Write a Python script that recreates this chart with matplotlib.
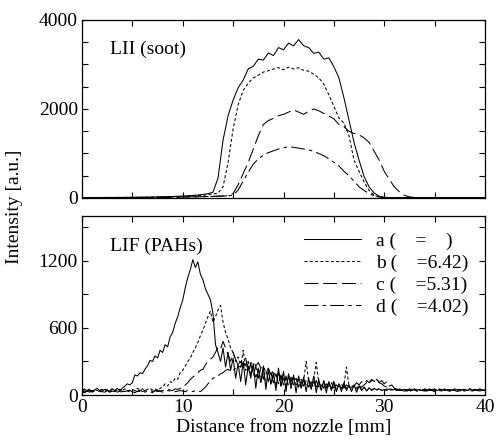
import numpy as np
import matplotlib
matplotlib.use('Agg')
import matplotlib.pyplot as plt
from matplotlib.ticker import MultipleLocator

plt.rcParams['font.family'] = ['Liberation Serif', 'DejaVu Serif']
plt.rcParams['font.size'] = 14
plt.rcParams['lines.scale_dashes'] = False

# ---- top panel: LII (soot), samples every 0.5 mm ----
lii_a = [10, 12, 10, 12, 11, 13, 12, 14, 13, 15,
         15, 17, 18, 20, 22, 25, 27, 30, 34, 38,
         44, 50, 58, 68, 80, 98, 130, 450, 1300, 1850,
         2200, 2480, 2650, 2900, 2960, 3120, 3100, 3260, 3200, 3380,
         3330, 3480, 3420, 3560, 3420, 3380, 3250, 3280, 3120, 3150,
         2950, 2700, 2250, 1750, 1250, 850, 480, 250, 110, 40,
         15, 10, 8, 8, 8, 8, 8, 8, 8, 8,
         8, 8, 8, 8, 8, 8, 8, 8, 8, 8, 8]
lii_b = [10, 10, 11, 10, 12, 11, 12, 12, 13, 13,
         14, 15, 16, 17, 18, 20, 22, 24, 26, 30,
         34, 38, 44, 52, 62, 75, 90, 110, 250, 800,
         1550, 2100, 2420, 2580, 2700, 2760, 2830, 2860, 2900, 2930,
         2880, 2940, 2900, 2930, 2870, 2850, 2780, 2700, 2560, 2320,
         2060, 1800, 1680, 1400, 850, 600, 360, 170, 60, 20,
         10, 10, 10, 10, 10, 10, 10, 10, 10, 10,
         10, 10, 10, 10, 10, 10, 10, 10, 10, 10, 10]
lii_c = [8, 8, 9, 8, 9, 9, 10, 10, 10, 11,
         11, 12, 12, 13, 14, 15, 16, 17, 18, 20,
         22, 24, 26, 28, 30, 33, 36, 40, 45, 50,
         100, 300, 550, 800, 1100, 1400, 1650, 1740, 1790, 1850,
         1880, 1930, 1980, 1930, 1880, 1950, 2000, 1960, 1900, 1840,
         1780, 1650, 1600, 1500, 1450, 1420, 1350, 1250, 1050, 850,
         600, 420, 250, 140, 60, 25, 12, 10, 10, 10,
         10, 10, 10, 10, 10, 10, 10, 10, 10, 10, 10]
lii_d = [8, 8, 9, 8, 9, 9, 10, 10, 10, 11,
         11, 12, 12, 13, 14, 15, 16, 17, 18, 20,
         22, 24, 26, 28, 30, 33, 36, 40, 45, 50,
         60, 180, 380, 580, 760, 880, 960, 1020, 1060, 1100,
         1130, 1150, 1140, 1120, 1100, 1080, 1050, 1000, 950, 880,
         800, 720, 600, 500, 380, 250, 170, 100, 50, 20,
         10, 10, 10, 10, 10, 10, 10, 10, 10, 10,
         10, 10, 10, 10, 10, 10, 10, 10, 10, 10, 10]

# ---- bottom panel: LIF (PAHs), samples every 0.25 mm ----
lif_a = [40, 55, 35, 50, 30, 45, 60, 40,
         35, 50, 45, 30, 55, 40, 60, 35,
         60, 80, 100, 90, 110, 180, 170, 200,
         190, 230, 260, 310, 300, 350, 330, 400,
         380, 450, 430, 520, 560, 640, 700, 780,
         850, 960, 1050, 1120, 1210, 1140, 1190, 1080,
         1030, 950, 900, 850, 730, 450, 380, 300,
         420, 250, 380, 220, 330, 150, 280, 120,
         300, 90, 260, 150, 280, 60, 240, 110,
         260, 50, 230, 100, 200, 40, 240, 80,
         210, 30, 190, 70, 180, 20, 170, 60,
         160, 30, 150, 50, 170, 20, 140, 40,
         130, 20, 120, 40, 110, 30, 100, 30,
         110, 40, 90, 30, 90, 25, 80, 40,
         70, 35, 65, 40, 60, 45, 55, 40,
         50, 40, 55, 45, 50, 40, 55, 45,
         50, 45, 55, 40, 55, 45, 50, 40,
         55, 45, 50, 45, 55, 40, 50, 45,
         55, 45, 50, 40, 55, 45, 50, 45,
         50, 40, 55, 45, 50, 45, 55, 40,
         45]
lif_b = [30, 45, 40, 55, 35, 50, 40, 45,
         50, 35, 45, 40, 55, 30, 45, 50,
         40, 55, 35, 45, 50, 40, 60, 45,
         55, 40, 50, 60, 45, 55, 40, 60,
         70, 100, 80, 120, 110, 150, 140, 200,
         220, 260, 300, 330, 380, 420, 470, 530,
         580, 640, 700, 750, 650, 700, 760, 800,
         650, 560, 500, 420, 380, 300, 340, 250,
         400, 220, 300, 180, 260, 150, 240, 120,
         220, 100, 200, 90, 180, 80, 190, 70,
         160, 70, 170, 60, 150, 80, 140, 60,
         130, 300, 120, 60, 140, 290, 110, 50,
         120, 60, 110, 50, 130, 40, 100, 60,
         90, 250, 80, 50, 90, 40, 80, 50,
         70, 40, 60, 50, 55, 45, 60, 40,
         45, 55, 40, 50, 45, 55, 40, 50,
         45, 50, 40, 55, 45, 50, 40, 45,
         50, 45, 55, 40, 50, 45, 55, 40,
         45, 50, 40, 55, 45, 50, 45, 40,
         50, 45, 55, 40, 50, 45, 50, 40,
         45]
lif_c = [25, 35, 30, 40, 25, 35, 30, 40,
         30, 25, 40, 35, 30, 40, 25, 35,
         35, 30, 40, 30, 35, 40, 30, 45,
         30, 40, 35, 45, 30, 40, 45, 35,
         40, 35, 50, 45, 40, 55, 50, 60,
         60, 90, 110, 140, 160, 180, 200, 220,
         230, 270, 300, 320, 340, 380, 430, 410,
         480, 420, 360, 300, 380, 320, 260, 300,
         240, 330, 200, 280, 170, 260, 150, 240,
         140, 230, 120, 200, 110, 190, 100, 180,
         90, 170, 80, 160, 90, 150, 70, 140,
         80, 130, 70, 120, 60, 130, 70, 110,
         60, 100, 70, 110, 60, 90, 70, 100,
         60, 90, 70, 100, 80, 110, 90, 120,
         100, 130, 110, 140, 120, 150, 110, 130,
         100, 120, 80, 90, 60, 50, 40, 45,
         40, 35, 45, 40, 50, 35, 45, 40,
         35, 45, 40, 50, 35, 45, 40, 45,
         40, 50, 35, 45, 40, 45, 35, 50,
         45, 40, 50, 35, 45, 40, 50, 45,
         40]
lif_d = [30, 20, 35, 25, 40, 30, 25, 35,
         20, 30, 40, 25, 35, 30, 45, 25,
         30, 35, 25, 40, 30, 20, 35, 30,
         40, 25, 35, 30, 20, 40, 30, 35,
         25, 30, 40, 35, 25, 30, 35, 40,
         35, 30, 40, 35, 30, 40, 35, 30,
         50, 70, 100, 120, 150, 160, 170, 190,
         200, 220, 230, 210, 220, 240, 260, 250,
         290, 270, 310, 280, 300, 260, 290, 240,
         260, 200, 240, 180, 220, 160, 200, 140,
         180, 130, 170, 120, 160, 110, 150, 100,
         140, 90, 130, 80, 120, 70, 110, 80,
         100, 70, 110, 60, 100, 70, 90, 60,
         90, 60, 80, 70, 90, 60, 80, 70,
         90, 110, 100, 130, 120, 140, 110, 100,
         80, 70, 60, 50, 45, 40, 45, 40,
         35, 45, 40, 30, 45, 35, 40, 45,
         40, 35, 45, 40, 30, 45, 40, 35,
         45, 40, 35, 45, 40, 30, 45, 40,
         35, 45, 40, 35, 45, 40, 35, 45,
         40]

labels = ['a (    =    )', 'b (    =6.42)', 'c (    =5.31)', 'd (    =4.02)']
styles = [(None, None), (0, (2.2, 1.6)), (0, (10, 3.5)), (0, (10, 3, 2.5, 3))]

fig = plt.figure(figsize=(4.96, 4.46), dpi=100)
ax1 = fig.add_axes([82/496, 1-198/446, 403/496, 178/446])
ax2 = fig.add_axes([82/496, 1-395/446, 403/496, 179/446])

top = [lii_a, lii_b, lii_c, lii_d]
bot = [lif_a, lif_b, lif_c, lif_d]
for ys, (off, dash), lab in zip(top, styles, labels):
    x = np.arange(len(ys)) * 0.5
    ls = '-' if dash is None else (off, dash)
    ax1.plot(x, ys, color='black', lw=0.75, ls=ls)
for ys, (off, dash), lab in zip(bot, styles, labels):
    x = np.arange(len(ys)) * 0.25
    ls = '-' if dash is None else (off, dash)
    ax2.plot(x, ys, color='black', lw=0.75, ls=ls, label=lab)

ax1.set_xlim(0, 40)
ax1.set_ylim(0, 4000)
ax1.yaxis.set_major_locator(MultipleLocator(2000))
ax1.yaxis.set_minor_locator(MultipleLocator(500))
ax1.set_xticklabels([])
ax2.set_xlim(0, 40)
ax2.set_ylim(0, 1600)
ax2.yaxis.set_major_locator(MultipleLocator(600))
ax2.yaxis.set_minor_locator(MultipleLocator(300))

for ax in (ax1, ax2):
    ax.xaxis.set_major_locator(MultipleLocator(10))
    ax.xaxis.set_minor_locator(MultipleLocator(5))
    ax.tick_params(which='both', direction='in', top=True, right=True,
                   length=4.5, width=0.8, labelsize=14, pad=3)
    for s in ax.spines.values():
        s.set_linewidth(0.9)

ax1.text(2.8, 3330, 'LII (soot)', fontsize=14, va='center')
ax2.text(2.8, 1325, 'LIF (PAHs)', fontsize=14, va='center')

ax2.legend(loc='upper right', bbox_to_anchor=(0.96, 0.91), frameon=False,
           fontsize=14, labelspacing=0.22, handlelength=2.9,
           handletextpad=0.8, borderpad=0, borderaxespad=0)

ax2.set_xlabel('Distance from nozzle [mm]', fontsize=14, labelpad=2)
fig.text(0.03, 1-207/446, 'Intensity [a.u.]', rotation=90,
         ha='center', va='center', fontsize=14)

fig.savefig('out.png', dpi=100)
